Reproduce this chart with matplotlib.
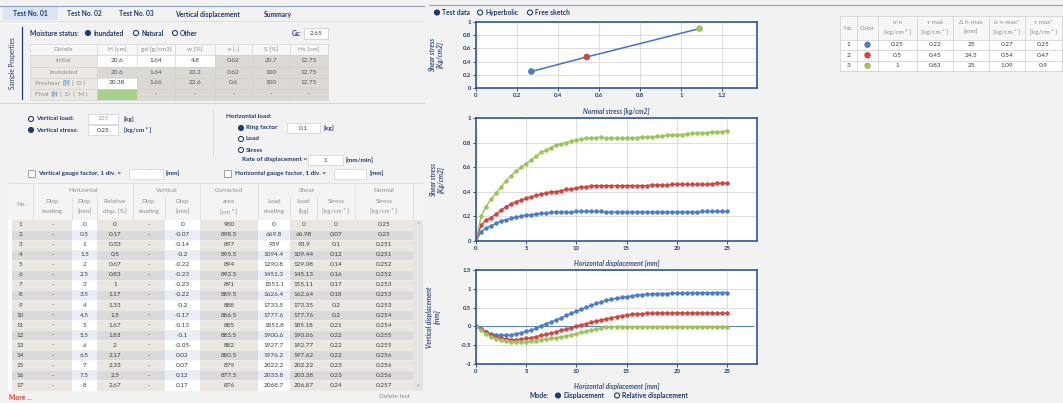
import matplotlib
matplotlib.use("Agg")
from matplotlib import pyplot
from matplotlib.patches import Rectangle, Circle
from matplotlib.ticker import FuncFormatter

pyplot.rcParams["font.family"] = ["Lato", "DejaVu Sans"]

# ---- data ----
tabs = ["Test No. 01", "Test No. 02", "Test No. 03", "Vertical displacement", "Summary"]

prop_cols = ["Details", "H [cm]", "gd [g/cm3]", "w [%]", "e [-]", "S [%]", "Hs [cm]"]
initial_row = ["20.6", "1.64", "4.8", "0.62", "20.7", "12.75"]
inundated_row = ["20.6", "1.64", "23.2", "0.62", "100", "12.75"]
preshear_row = ["20.38", "1.66", "22.6", "0.6", "100", "12.75"]
final_row = ["", "-", "-", "-", "-", "-"]
gs_value = "2.65"

row_no = ["1", "2", "3", "4", "5", "6", "7", "8", "9", "10", "11", "12", "13", "14", "15", "16", "17"]
h_disp = ["0", "0.5", "1", "1.5", "2", "2.5", "3", "3.5", "4", "4.5", "5", "5.5", "6", "6.5", "7", "7.5", "8"]
rel_disp = ["0", "0.17", "0.33", "0.5", "0.67", "0.83", "1", "1.17", "1.33", "1.5", "1.67", "1.83", "2",
            "2.17", "2.33", "2.5", "2.67"]
v_disp = ["0", "-0.07", "-0.14", "-0.2", "-0.22", "-0.23", "-0.23", "-0.22", "-0.2", "-0.17", "-0.13",
          "-0.1", "-0.05", "0.02", "0.07", "0.12", "0.17"]
corr_area = ["900", "898.5", "897", "895.5", "894", "892.5", "891", "889.5", "888", "886.5", "885",
             "883.5", "882", "880.5", "879", "877.5", "876"]
load_reading = ["0", "669.8", "939", "1094.4", "1290.8", "1451.3", "1551.1", "1626.4", "1733.5", "1777.6",
                "1851.8", "1900.6", "1927.7", "1976.2", "2022.2", "2033.8", "2068.7"]
load_kg = ["0", "66.98", "93.9", "109.44", "129.08", "145.13", "155.11", "162.64", "173.35", "177.76",
           "185.18", "190.06", "192.77", "197.62", "202.22", "203.38", "206.87"]
shear_stress = ["0", "0.07", "0.1", "0.12", "0.14", "0.16", "0.17", "0.18", "0.2", "0.2", "0.21", "0.22",
                "0.22", "0.22", "0.23", "0.23", "0.24"]
normal_stress = ["0.25", "0.25", "0.251", "0.251", "0.252", "0.252", "0.253", "0.253", "0.253", "0.254",
                 "0.254", "0.255", "0.255", "0.256", "0.256", "0.256", "0.257"]

sum_no = ["1", "2", "3"]
sum_sigma_n = ["0.25", "0.5", "1"]
sum_tau_max = ["0.22", "0.45", "0.83"]
sum_dh_max = ["25", "24.5", "25"]
sigma_n_max = [0.27, 0.54, 1.09]
tau_max_star = [0.25, 0.47, 0.9]
test_colors = ["#4a7cc8", "#d0453f", "#9cc45a"]

disp_mm = [0, 0.5, 1, 1.5, 2, 2.5, 3, 3.5, 4, 4.5, 5, 5.5, 6, 6.5, 7, 7.5, 8, 8.5, 9, 9.5, 10,
           10.5, 11, 11.5, 12, 12.5, 13, 13.5, 14, 14.5, 15, 15.5, 16, 16.5, 17, 17.5, 18, 18.5,
           19, 19.5, 20, 20.5, 21, 21.5, 22, 22.5, 23, 23.5, 24, 24.5, 25]

shear_1 = [0, 0.075, 0.105, 0.122, 0.144, 0.163, 0.174, 0.183, 0.195, 0.201, 0.209, 0.215, 0.219, 0.224,
           0.230, 0.232, 0.236, 0.236, 0.235, 0.232, 0.24, 0.24, 0.24, 0.24, 0.24, 0.24, 0.235, 0.235,
           0.235, 0.235, 0.235, 0.235, 0.235, 0.235, 0.235, 0.235, 0.235, 0.235, 0.235, 0.235, 0.235,
           0.235, 0.235, 0.235, 0.235, 0.24, 0.24, 0.24, 0.24, 0.24, 0.24]
shear_2 = [0, 0.13, 0.17, 0.19, 0.22, 0.25, 0.28, 0.30, 0.32, 0.33, 0.35, 0.36, 0.37, 0.38, 0.39, 0.40,
           0.40, 0.41, 0.42, 0.42, 0.43, 0.44, 0.44, 0.45, 0.45, 0.45, 0.45, 0.45, 0.45, 0.45, 0.45,
           0.45, 0.45, 0.45, 0.45, 0.455, 0.455, 0.455, 0.455, 0.46, 0.46, 0.46, 0.46, 0.46, 0.46, 0.46,
           0.46, 0.465, 0.47, 0.47, 0.47]
shear_3 = [0, 0.20, 0.28, 0.34, 0.39, 0.44, 0.49, 0.53, 0.57, 0.60, 0.63, 0.66, 0.69, 0.72, 0.74, 0.76,
           0.78, 0.79, 0.80, 0.81, 0.82, 0.83, 0.835, 0.84, 0.84, 0.845, 0.835, 0.835, 0.835, 0.835, 0.835,
           0.84, 0.84, 0.845, 0.845, 0.845, 0.85, 0.85, 0.86, 0.865, 0.865, 0.865, 0.87, 0.875, 0.875,
           0.88, 0.88, 0.885, 0.885, 0.89, 0.895]

vert_1 = [0, -0.07, -0.14, -0.2, -0.22, -0.23, -0.23, -0.22, -0.2, -0.17, -0.13, -0.1, -0.05, 0.02, 0.07,
          0.12, 0.17, 0.23, 0.29, 0.35, 0.40, 0.46, 0.51, 0.56, 0.61, 0.65, 0.69, 0.72, 0.75, 0.77, 0.79,
          0.81, 0.83, 0.845, 0.855, 0.865, 0.87, 0.875, 0.875, 0.88, 0.88, 0.885, 0.885, 0.89, 0.89, 0.89,
          0.895, 0.895, 0.9, 0.9, 0.9]
vert_2 = [0, -0.07, -0.15, -0.22, -0.27, -0.31, -0.33, -0.35, -0.35, -0.34, -0.32, -0.30, -0.27, -0.24,
          -0.21, -0.18, -0.14, -0.10, -0.07, -0.03, 0.0, 0.04, 0.07, 0.11, 0.14, 0.17, 0.20, 0.23, 0.26,
          0.28, 0.30, 0.32, 0.33, 0.34, 0.345, 0.35, 0.35, 0.355, 0.355, 0.355, 0.355, 0.355, 0.355,
          0.355, 0.355, 0.355, 0.355, 0.35, 0.35, 0.35, 0.35]
vert_3 = [0, -0.10, -0.20, -0.28, -0.33, -0.37, -0.40, -0.41, -0.42, -0.42, -0.41, -0.40, -0.38, -0.36,
          -0.34, -0.32, -0.30, -0.28, -0.25, -0.22, -0.19, -0.16, -0.13, -0.10, -0.07, -0.04, -0.02,
          -0.01, -0.01, -0.01, -0.01, -0.01, -0.01, -0.01, -0.01, -0.01, -0.01, -0.01, -0.01, -0.015,
          -0.015, -0.015, -0.015, -0.02, -0.02, -0.02, -0.02, -0.02, -0.02, -0.02, -0.02]

# ---- styling ----
W, H = 1063, 403
BG = "#f2f2f2"
NAVY = "#1f3a6e"
LABEL = "#3a5283"
HEAD = "#8c8c8c"
VAL = "#3c3c3c"
CALC = ["#ece6e1", "#dadada"]
INPUT = ["#ffffff", "#e8eef6"]
LINE = "#cfcfcf"
FS = 4.6

fig = pyplot.figure(figsize=(W / 100, H / 100), dpi=100, facecolor=BG)
ax = fig.add_axes([0, 0, 1, 1])
ax.set_xlim(0, W)
ax.set_ylim(H, 0)
ax.axis("off")


def box(x0, y0, x1, y1, fc, ec="none", lw=0.5, z=1):
    ax.add_patch(Rectangle((x0, y0), x1 - x0, y1 - y0, facecolor=fc, edgecolor=ec, linewidth=lw, zorder=z))


def txt(x, y, s, size=FS, color=VAL, ha="center", weight="normal", **kw):
    ax.text(x, y, s, fontsize=size, color=color, ha=ha, va="center", fontweight=weight, zorder=5, **kw)


def radio(x, y, filled):
    ax.add_patch(Circle((x, y), 2.5, facecolor=NAVY if filled else "white", edgecolor=NAVY,
                        linewidth=0.8, zorder=5))


def hline(y, x0, x1, color=LINE, lw=0.6):
    ax.plot([x0, x1], [y, y], color=color, linewidth=lw, zorder=3)


def vline(x, y0, y1, color=LINE, lw=0.6):
    ax.plot([x, x], [y0, y1], color=color, linewidth=lw, zorder=3)


# ---- tabs ----
hline(6, 0, 424, color="#8fa7c4", lw=0.9)
hline(5, 429, W, color="#8fa7c4", lw=0.9)
hline(21, 0, 424, color="#dcdcdc", lw=0.6)
box(3, 7, 58, 20, "#dbe4f0")
for label, cx in zip(tabs, [30, 84, 136, 207, 278]):
    txt(cx, 14, label, size=4.9, color=NAVY, weight="bold")

# ---- sample properties ----
vline(22, 27, 99, color=NAVY, lw=0.9)
txt(13, 63, "Sample Properties", size=4.7, color=NAVY, rotation=90)
txt(30, 33, "Moisture status:", size=4.9, color=NAVY, ha="left", weight="bold")
radio(88, 33, True)
txt(93, 33, "Inundated", size=4.9, color=NAVY, ha="left", weight="bold")
radio(136, 33, False)
txt(141, 33, "Natural", size=4.9, color=NAVY, ha="left", weight="bold")
radio(175, 33, False)
txt(180, 33, "Other", size=4.9, color=NAVY, ha="left", weight="bold")
txt(301, 33, "Gs:", size=4.9, color=NAVY, ha="right", weight="bold")
box(304, 28, 328, 39, "white", ec="#c8c8c8")
txt(316, 33.5, gs_value)

pcol = [30, 97, 137, 175, 215, 252, 290, 328]
prow = [43.5, 55, 66.5, 77.5, 88.5, 99.5]
box(pcol[0], prow[0], pcol[-1], prow[1], "#f7f7f7")
for j, name in enumerate(prop_cols):
    txt((pcol[j] + pcol[j + 1]) / 2, (prow[0] + prow[1]) / 2, name, color=HEAD)
row_names = ["Initial", "Inundated", "Preshear", "Final"]
row_vals = [initial_row, inundated_row, preshear_row, final_row]
input_mask = [[1, 1, 1, 0, 0, 0], [0] * 6, [1, 0, 0, 0, 0, 0], [2, 0, 0, 0, 0, 0]]
for i, (name, vals) in enumerate(zip(row_names, row_vals)):
    y0, y1 = prow[i + 1], prow[i + 2]
    yc = (y0 + y1) / 2
    box(pcol[0], y0, pcol[1], y1, "#ebe7e3")
    if name in ("Initial", "Inundated"):
        txt((pcol[0] + pcol[1]) / 2, yc, name, color=HEAD)
    for j, v in enumerate(vals):
        kind = input_mask[i][j]
        fc = {0: "#dcd8d4", 1: "white", 2: "#a8d08d"}[kind]
        box(pcol[j + 1], y0, pcol[j + 2], y1, fc)
        txt((pcol[j + 1] + pcol[j + 2]) / 2, yc, v, color=VAL if kind else "#555555")

# Preshear ( H | D ) and Final ( H | D | M ) selectors
yp = (prow[3] + prow[4]) / 2
txt(35, yp, "Preshear  (", color=HEAD, ha="left")
box(63, yp - 3.2, 70, yp + 3.2, "#bcd3ee")
txt(66.5, yp, "H", size=3.8, color="#5f82b5")
txt(72, yp, "|  D )", color=HEAD, ha="left")
yf = (prow[4] + prow[5]) / 2
txt(35, yf, "Final  (", color=HEAD, ha="left")
box(51, yf - 3.2, 58, yf + 3.2, "#bcd3ee")
txt(54.5, yf, "H", size=3.8, color="#5f82b5")
txt(60, yf, "|  D  |  M )", color=HEAD, ha="left")
for y in prow:
    hline(y, pcol[0], pcol[-1], color="#d2d2d2", lw=0.5)
for x in pcol:
    vline(x, prow[0], prow[-1], color="#d2d2d2", lw=0.5)

hline(103, 0, 424, color="#d6d6d6", lw=0.8)

# ---- load options ----
radio(31, 119, False)
txt(36, 119, "Vertical load:", color=NAVY, ha="left", weight="bold")
box(88, 114, 118, 124, "white", ec="#d0d0d0")
txt(103, 119, "225", color="#a0a0a0")
txt(124, 119, "[kg]", color=NAVY, ha="left", weight="bold")
radio(31, 130, True)
txt(36, 130, "Vertical stress:", color=NAVY, ha="left", weight="bold")
box(88, 125, 118, 135, "white", ec="#d0d0d0")
txt(103, 130, "0.25")
txt(124, 130, "[kg/cm ² ]", color=NAVY, ha="left", weight="bold")
vline(213, 110, 156, color="#d6d6d6", lw=0.6)
txt(226, 117, "Horizontal load:", color=NAVY, ha="left", weight="bold")
radio(241, 128, True)
txt(246, 128, "Ring factor", color=NAVY, ha="left", weight="bold")
box(287, 123, 320, 133, "white", ec="#d0d0d0")
txt(303, 128, "0.1")
txt(324, 128, "[kg]", color=NAVY, ha="left", weight="bold")
radio(241, 139, False)
txt(246, 139, "Load", color=NAVY, ha="left", weight="bold")
radio(241, 150, False)
txt(246, 150, "Stress", color=NAVY, ha="left", weight="bold")
txt(307, 160, "Rate of displacement =", color=NAVY, ha="right", weight="bold")
box(308, 155, 343, 165, "white", ec="#d0d0d0")
txt(325, 160, "1")
txt(346, 160, "[mm/min]", color=NAVY, ha="left", weight="bold")
box(28, 170, 35, 177, "white", ec="#909090", lw=0.6)
txt(38, 173.5, "Vertical gauge factor, 1 div. =", color=NAVY, ha="left", weight="bold")
box(129, 168.5, 163, 178.5, "white", ec="#d0d0d0")
txt(146, 173.5, "-", color="#a0a0a0")
txt(166, 173.5, "[mm]", color=NAVY, ha="left", weight="bold")
box(224, 170, 231, 177, "white", ec="#909090", lw=0.6)
txt(235, 173.5, "Horizontal gauge factor, 1 div. =", color=NAVY, ha="left", weight="bold")
box(334, 168.5, 366, 178.5, "white", ec="#d0d0d0")
txt(350, 173.5, "-", color="#a0a0a0")
txt(370, 173.5, "[mm]", color=NAVY, ha="left", weight="bold")

# ---- data table ----
dcol = [8, 33, 72, 97, 133, 165, 200, 258, 290, 317, 355, 413]
top, head_bot = 183, 219.5
step = 10.06
box(dcol[0], top, 423, head_bot, "#f4f4f4")
groups = [(33, 133, "Horizontal"), (133, 200, "Vertical"), (200, 258, "Corrected"),
          (258, 355, "Shear"), (355, 413, "Normal")]
for x0, x1, g in groups:
    txt((x0 + x1) / 2, 190, g, color=HEAD)
sub1 = ["", "Disp.", "Disp.", "Relative", "Disp.", "Disp.", "area", "Load", "Load", "Stress", "Stress"]
sub2 = ["", "reading", "[mm]", "disp. [%]", "reading", "[mm]", "[cm ² ]", "reading", "[kg]",
        "[kg/cm ² ]", "[kg/cm ² ]"]
for j in range(len(dcol) - 1):
    cx = (dcol[j] + dcol[j + 1]) / 2
    txt(cx, 201.5, sub1[j], color=HEAD)
    txt(cx, 211.5, sub2[j], color=HEAD)
txt(21, 205, "No.", color=HEAD)
for x in [33, 133, 200, 258, 355, 413]:
    vline(x, top, head_bot, color="#dadada", lw=0.5)
for x in [72, 97, 165, 290, 317]:
    vline(x, 196, head_bot, color="#dadada", lw=0.5)
hline(top, dcol[0], 423, color="#dadada", lw=0.5)

columns = [row_no, ["-"] * 17, h_disp, rel_disp, ["-"] * 17, v_disp, corr_area, load_reading,
           load_kg, shear_stress, normal_stress]
is_input = [False, False, True, False, False, True, False, True, False, False, False]
for i in range(len(row_no)):
    y0 = head_bot + i * step
    yc = y0 + step / 2
    for j, col in enumerate(columns):
        fc = INPUT[i % 2] if is_input[j] else CALC[i % 2]
        box(dcol[j], y0, dcol[j + 1], y0 + step, fc)
        txt((dcol[j] + dcol[j + 1]) / 2, yc, col[i])
    hline(y0 + step, dcol[0], dcol[-1], color="#f4f4f4", lw=0.4)
box(8, head_bot, 12, head_bot + 17 * step, "white")
box(413, head_bot, 423, head_bot + 17 * step, "#e4e4e4")
txt(418, head_bot + 5, "^", size=4, color="#999999")
txt(418, head_bot + 17 * step - 5, "v", size=4, color="#999999")
txt(9, 397, "More ...", size=4.9, color="#d9433a", ha="left", weight="bold")
txt(410, 397, "Delete test", size=4.6, color="#888888", ha="right")

# ---- chart radio row ----
radio(437, 12.5, True)
txt(442, 12.5, "Test data", size=4.9, color=NAVY, ha="left", weight="bold")
radio(480, 12.5, False)
txt(485, 12.5, "Hyperbolic", size=4.9, color=NAVY, ha="left", weight="bold")
radio(530, 12.5, False)
txt(535, 12.5, "Free sketch", size=4.9, color=NAVY, ha="left", weight="bold")

# ---- summary table ----
scol = [840, 857, 878, 917, 953, 989, 1025, 1062]
srow = [16, 39.5, 50, 60.5, 71]
sum_head1 = ["No.", "Color", "σ n", "τ max", "Δ h-max", "σ n-max*", "τ max*"]
sum_head2 = ["", "", "[kg/cm ² ]", "[kg/cm ² ]", "[mm]", "[kg/cm ² ]", "[kg/cm ² ]"]
box(scol[0], srow[0], scol[-1], srow[1], "#f7f7f7")
box(scol[0], srow[1], scol[-1], srow[-1], "white")
for j in range(len(scol) - 1):
    cx = (scol[j] + scol[j + 1]) / 2
    if sum_head2[j]:
        txt(cx, 23, sum_head1[j], color=HEAD)
        txt(cx, 32, sum_head2[j], color=HEAD)
    else:
        txt(cx, 28, sum_head1[j], color=HEAD)
sum_cols = [sum_no, None, sum_sigma_n, sum_tau_max, sum_dh_max,
            [f"{v:g}" for v in sigma_n_max], [f"{v:g}" for v in tau_max_star]]
for i in range(3):
    yc = (srow[i + 1] + srow[i + 2]) / 2
    for j, col in enumerate(sum_cols):
        cx = (scol[j] + scol[j + 1]) / 2
        if col is None:
            ax.add_patch(Circle((cx, yc), 3.2, facecolor=test_colors[i], edgecolor="none", zorder=5))
        else:
            txt(cx, yc, col[i])
for y in srow:
    hline(y, scol[0], scol[-1], color="#d4d4d4", lw=0.6)
for x in scol:
    vline(x, srow[0], srow[-1], color="#d4d4d4", lw=0.6)

# ---- mode row ----
txt(530, 395.5, "Mode:", size=4.9, color=NAVY, ha="left", weight="bold")
radio(558, 395.5, True)
txt(563, 395.5, "Displacement", size=4.9, color=NAVY, ha="left", weight="bold")
radio(617, 395.5, False)
txt(622, 395.5, "Relative displacement", size=4.9, color=NAVY, ha="left", weight="bold")


# ---- charts ----
def chart(left, right, top_px, bottom_px):
    a = fig.add_axes([left / W, 1 - bottom_px / H, (right - left) / W, (bottom_px - top_px) / H])
    a.set_facecolor("white")
    for s in a.spines.values():
        s.set_color("#2f5597")
        s.set_linewidth(1.2)
    a.tick_params(labelsize=4.3, colors=NAVY, length=2, width=0.6, pad=1.5)
    a.grid(True, color="#d9d9d9", linewidth=0.6)
    a.set_axisbelow(True)
    a.xaxis.set_major_formatter(FuncFormatter(lambda v, p: f"{v:g}"))
    a.yaxis.set_major_formatter(FuncFormatter(lambda v, p: f"{v:g}"))
    return a


def labels(a, xl, yl, xl_y, yl_x):
    a.set_xlabel(xl, fontsize=4.9, color=LABEL, style="italic", fontweight="bold")
    a.set_ylabel(yl, fontsize=4.9, color=LABEL, style="italic", fontweight="bold", linespacing=1.1)
    a.xaxis.set_label_coords(0.5, xl_y)
    a.yaxis.set_label_coords(yl_x, 0.5)
    for lab in a.get_xticklabels() + a.get_yticklabels():
        lab.set_fontweight("bold")


a1 = chart(476, 757, 22, 88)
a1.plot(sigma_n_max, tau_max_star, color="#4472c4", linewidth=1.1, zorder=2)
a1.scatter(sigma_n_max, tau_max_star, c=test_colors, s=14, zorder=3)
a1.set_xlim(0, 1.37)
a1.set_ylim(0, 1)
a1.set_xticks([0, 0.2, 0.4, 0.6, 0.8, 1, 1.2])
a1.set_yticks([0, 0.2, 0.4, 0.6, 0.8, 1])
labels(a1, "Normal stress [kg/cm2]", "Shear stress\n[Kg/cm2]", -0.3, -0.115)

a2 = chart(476, 757, 118, 241)
for ys, c in zip([shear_1, shear_2, shear_3], test_colors):
    a2.plot(disp_mm, ys, color=c, linewidth=1.0, marker="o", markersize=2.2, zorder=2)
a2.set_xlim(0, 28)
a2.set_ylim(0, 1)
a2.set_xticks([0, 5, 10, 15, 20, 25])
a2.set_yticks([0, 0.2, 0.4, 0.6, 0.8, 1])
labels(a2, "Horizontal displacement [mm]", "Shear stress\n[Kg/cm2]", -0.155, -0.11)

a3 = chart(476, 757, 270, 364)
a3.axhline(0, xmin=0, xmax=0.985, color="#5b87b9", linewidth=0.8, zorder=1)
for ys, c in zip([vert_1, vert_2, vert_3], test_colors):
    a3.plot(disp_mm, ys, color=c, linewidth=1.0, marker="o", markersize=2.2, zorder=2)
a3.set_xlim(0, 28)
a3.set_ylim(-1, 1.5)
a3.set_xticks([0, 5, 10, 15, 20, 25])
a3.set_yticks([-1, -0.5, 0, 0.5, 1, 1.5])
labels(a3, "Horizontal displacement [mm]", "Vertical displacement\n[mm]", -0.2, -0.125)

fig.savefig("out.png", dpi=100, facecolor=BG)
